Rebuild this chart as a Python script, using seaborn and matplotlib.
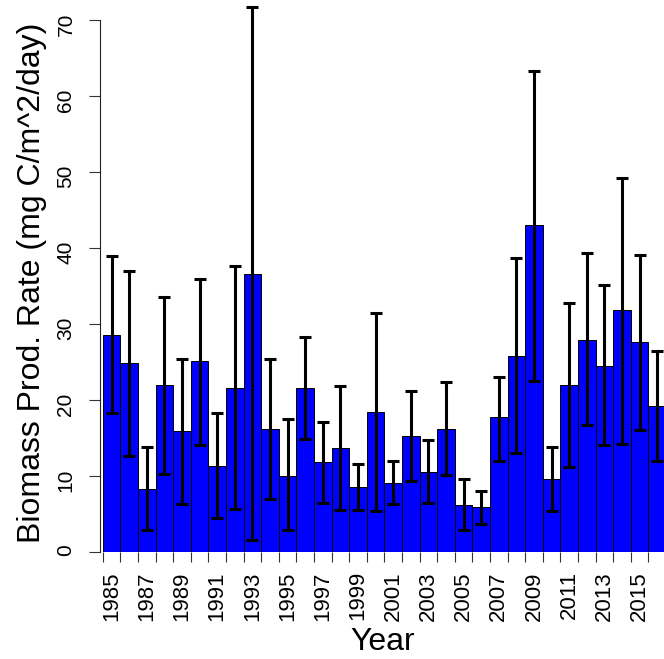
import numpy as np
import pandas as pd
import matplotlib
matplotlib.use("Agg")
import matplotlib.pyplot as plt
import seaborn as sns

# Annual biomass production rate with lower/upper bounds of the error bars
years = list(range(1985, 2017))
rate = [28.6, 24.9, 8.3, 22.0, 15.9, 25.1, 11.3, 21.6, 36.6, 16.2,
        10.0, 21.6, 11.8, 13.7, 8.5, 18.4, 9.1, 15.3, 10.5, 16.2,
        6.2, 5.9, 17.7, 25.8, 43.0, 9.6, 22.0, 27.9, 24.5, 31.8,
        27.6, 19.2]
lower = [18.3, 12.6, 2.9, 10.3, 6.3, 14.1, 4.4, 5.6, 1.5, 7.0,
         2.8, 14.9, 6.4, 5.5, 5.5, 5.4, 6.3, 9.3, 6.4, 10.1,
         2.9, 3.6, 12.0, 13.0, 22.5, 5.4, 11.2, 16.7, 14.1, 14.2,
         16.0, 12.0]
upper = [39.0, 37.0, 13.8, 33.5, 25.4, 36.0, 18.3, 37.7, 71.8, 25.4,
         17.5, 28.3, 17.1, 21.8, 11.6, 31.5, 12.0, 21.2, 14.7, 22.4,
         9.6, 8.0, 23.0, 38.7, 63.4, 13.8, 32.8, 39.3, 35.1, 49.2,
         39.1, 26.4]
ytick_values = [0, 10, 20, 30, 40, 50, 60, 70]

sns.set_theme(style="white")
plt.rcParams["font.family"] = ["Liberation Sans", "DejaVu Sans"]
plt.rcParams["text.color"] = "black"
plt.rcParams["axes.labelcolor"] = "black"

df = pd.DataFrame({"Year": [str(y) for y in years], "Rate": rate})

fig = plt.figure(figsize=(6.64, 6.59), dpi=100)
ax = fig.add_axes([0.1506, 0.1628, 0.8494, 0.8372])

sns.barplot(data=df, x="Year", y="Rate", color="#0000FF", saturation=1,
            width=1.0, edgecolor="black", linewidth=0.7, errorbar=None, ax=ax)

xpos = np.arange(len(years))
r = np.array(rate)
ax.errorbar(xpos, r, yerr=[r - np.array(lower), np.array(upper) - r],
            fmt="none", ecolor="black", elinewidth=2.2,
            capsize=4.3, capthick=2.2, zorder=3)

ax.set_xlim(-0.659, 31.386)
ax.set_ylim(0, 72.7)

for side in ("top", "right", "bottom"):
    ax.spines[side].set_visible(False)
ax.spines["left"].set_bounds(0, 70)
ax.spines["left"].set_color("#222222")
ax.spines["left"].set_linewidth(0.8)

# y axis
ax.set_yticks(ytick_values)
ax.set_yticklabels([str(v) for v in ytick_values])
ax.tick_params(axis="y", left=True, length=7.7, width=0.8, color="#333333",
               pad=10, labelsize=15, labelrotation=90, labelcolor="black")

# x axis: labels every other year at bar centres, ticks at bar edges
ax.set_xticks(xpos, labels=[str(y) if i % 2 == 0 else "" for i, y in enumerate(years)])
ax.set_xticks(xpos - 0.5, minor=True)
ax.tick_params(axis="x", which="major", bottom=True, length=0, pad=14,
               labelsize=16, labelrotation=90, labelcolor="black")
ax.tick_params(axis="x", which="minor", bottom=True, length=7.2, width=0.8,
               color="#333333")

ax.set_xlabel("Year", fontsize=23)
ax.xaxis.set_label_coords(0.502, -0.136)
ax.set_ylabel("Biomass Prod. Rate (mg C/m^2/day)", fontsize=23)
ax.yaxis.set_label_coords(-0.094, 0.487)

fig.savefig("out.png", dpi=100)
